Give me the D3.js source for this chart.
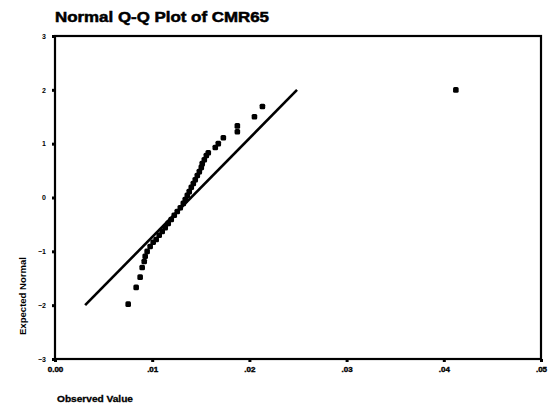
<!DOCTYPE html>
<html><head><meta charset="utf-8">
<script src="https://cdn.jsdelivr.net/npm/d3@7/dist/d3.min.js"></script>
<style>body{margin:0;background:#fff}svg{display:block}text{font-family:"Liberation Sans",Arial,sans-serif;font-weight:bold;fill:#000}</style>
</head><body><svg id="c" width="552" height="409"></svg>
<script>
const title = "Normal Q-Q Plot of CMR65";
const xLabel = "Observed Value";
const yLabel = "Expected Normal";
const xTicks = [0, 0.01, 0.02, 0.03, 0.04, 0.05];
const xTickLabels = ["0.00", ".01", ".02", ".03", ".04", ".05"];
const yTicks = [-3, -2, -1, 0, 1, 2, 3];
const observed = [0.00753,0.00835,0.00876,0.00897,0.00918,0.00928,0.00948,0.00979,0.01010,0.01041,
  0.01072,0.01103,0.01134,0.01165,0.01196,0.01227,0.01258,0.01289,0.01320,0.01340,
  0.01361,0.01381,0.01402,0.01423,0.01443,0.01464,0.01485,0.01505,0.01515,0.01536,
  0.01557,0.01577,0.01649,0.01680,0.01732,0.01876,0.01876,0.02052,0.02134,0.04124];
const expected = [-1.98,-1.67,-1.48,-1.30,-1.19,-1.09,-1.00,-0.91,-0.83,-0.78,
  -0.70,-0.63,-0.56,-0.48,-0.41,-0.33,-0.26,-0.19,-0.11,-0.04,
  0.04,0.11,0.19,0.26,0.33,0.41,0.48,0.56,0.63,0.70,
  0.78,0.83,0.93,1.00,1.11,1.22,1.33,1.50,1.69,2.00];
const refLineX = [0.0031, 0.0249];
const refLineY = [-2, 2];

const svg = d3.select("#c");
const L = 55, R = 541, T = 36, B = 359;
const x = d3.scaleLinear().domain([0, 0.05]).range([L, R]);
const y = d3.scaleLinear().domain([-3, 3]).range([B, T]);

svg.append("text").attr("x", 55).attr("y", 22).attr("font-size", 14)
  .attr("textLength", 214).attr("lengthAdjust", "spacingAndGlyphs")
  .attr("stroke", "#000").attr("stroke-width", 0.5).text(title);

// frame
svg.append("rect").attr("x", L).attr("y", T).attr("width", R - L).attr("height", B - T)
  .attr("fill", "none").attr("stroke", "#000").attr("stroke-width", 2.2);

const yAxis = svg.append("g").attr("transform", `translate(${L},0)`)
  .call(d3.axisLeft(y).tickValues(yTicks).tickSize(3).tickFormat(d3.format("d")));
yAxis.select(".domain").remove();
yAxis.selectAll("line").attr("stroke-width", 3);
yAxis.selectAll("text").attr("font-size", 7).attr("x", -9);

const xAxis = svg.append("g").attr("transform", `translate(0,${B})`)
  .call(d3.axisBottom(x).tickValues(xTicks).tickSize(3).tickFormat((d, i) => xTickLabels[i]));
xAxis.select(".domain").remove();
xAxis.selectAll("line").attr("stroke-width", 3);
xAxis.selectAll("text").attr("font-size", 8).attr("y", 7)
  .attr("stroke", "#000").attr("stroke-width", 0.4);

svg.append("text").attr("transform", "translate(26,296) rotate(-90)")
  .attr("text-anchor", "middle").attr("font-size", 8.5)
  .attr("textLength", 78).attr("lengthAdjust", "spacingAndGlyphs").text(yLabel);
svg.append("text").attr("x", 57).attr("y", 402).attr("font-size", 9)
  .attr("textLength", 76).attr("lengthAdjust", "spacingAndGlyphs")
  .attr("stroke", "#000").attr("stroke-width", 0.3).text(xLabel);

svg.append("line")
  .attr("x1", x(refLineX[0])).attr("y1", y(refLineY[0]))
  .attr("x2", x(refLineX[1])).attr("y2", y(refLineY[1]))
  .attr("stroke", "#000").attr("stroke-width", 2.6);

svg.append("g").selectAll("rect").data(observed).join("rect")
  .attr("x", (d) => x(d) - 2.8).attr("y", (d, i) => y(expected[i]) - 2.8)
  .attr("width", 5.6).attr("height", 5.6).attr("rx", 1.5).attr("fill", "#000");
</script></body></html>
